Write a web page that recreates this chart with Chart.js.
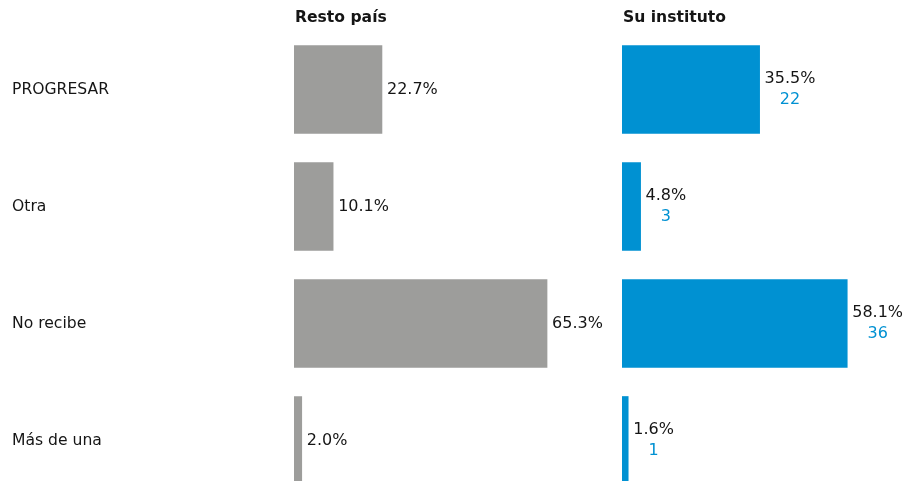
<!DOCTYPE html>
<html><head><meta charset="utf-8">
<script src="https://cdn.jsdelivr.net/npm/chart.js@4"></script>
<style>
html,body{margin:0;padding:0;background:#fff;overflow:hidden;width:905px;height:481px}
#w1{position:absolute;left:0;top:0;width:604px;height:500px}
#w2{position:absolute;left:604px;top:0;width:301px;height:500px}
</style></head><body>
<div id="w1"><canvas id="c1"></canvas></div>
<div id="w2"><canvas id="c2"></canvas></div>
<script>
const categories = ["PROGRESAR", "Otra", "No recibe", "Más de una"];
const restoPais = [22.7, 10.1, 65.3, 2.0];
const suInstituto = [35.5, 4.8, 58.1, 1.6];
const suInstitutoN = [22, 3, 36, 1];
const panelTitles = ["Resto país", "Su instituto"];

const FONT = "'DejaVu Sans', Verdana, sans-serif";
const FS = 15.6;
const FSV = 16;
const GREY = "#9d9d9b";
const BLUE = "#0091d2";
const TXT = "#151515";

function labelPlugin(title, counts, drawCats) {
  return {
    id: 'lbl',
    afterDatasetsDraw(chart) {
      const ctx = chart.ctx;
      const area = chart.chartArea;
      const ys = chart.scales.y;
      const meta = chart.getDatasetMeta(0);
      ctx.save();
      ctx.textBaseline = 'middle';
      ctx.fillStyle = TXT;
      ctx.font = "bold " + FS + "px " + FONT;
      ctx.textAlign = 'left';
      ctx.fillText(title, area.left + 1, 18);
      meta.data.forEach((bar, i) => {
        const v = chart.data.datasets[0].data[i];
        const txt = v.toFixed(1) + "%";
        const x = bar.x + 5;
        const y = ys.getPixelForValue(i);
        ctx.font = FSV + "px " + FONT;
        ctx.textAlign = 'left';
        if (counts) {
          ctx.fillStyle = TXT;
          ctx.fillText(txt, x, y - 11);
          const w = ctx.measureText(txt).width;
          ctx.fillStyle = BLUE;
          ctx.textAlign = 'center';
          ctx.fillText(String(counts[i]), x + w / 2, y + 10);
        } else {
          ctx.fillStyle = TXT;
          ctx.fillText(txt, x, y);
        }
        if (drawCats) {
          ctx.font = FS + "px " + FONT;
          ctx.fillStyle = TXT;
          ctx.textAlign = 'left';
          ctx.fillText(chart.data.labels[i], 12, y);
        }
      });
      ctx.restore();
    }
  };
}

function makeChart(id, data, color, max, padLeft, title, counts, drawCats) {
  return new Chart(document.getElementById(id), {
    type: 'bar',
    data: {
      labels: categories,
      datasets: [{ data: data, backgroundColor: color, barThickness: 88, borderWidth: 0 }]
    },
    options: {
      indexAxis: 'y',
      responsive: true,
      maintainAspectRatio: false,
      animation: false,
      layout: { padding: { left: padLeft, top: 31, bottom: 1, right: 0 } },
      plugins: { legend: { display: false }, tooltip: { enabled: false } },
      scales: {
        x: { display: false, min: 0, max: max },
        y: { display: false }
      }
    },
    plugins: [labelPlugin(title, counts, drawCats)]
  });
}

makeChart('c1', restoPais, GREY, 80, 294, panelTitles[0], null, true);
makeChart('c2', suInstituto, BLUE, 73, 18, panelTitles[1], suInstitutoN, false);
</script>
</body></html>
